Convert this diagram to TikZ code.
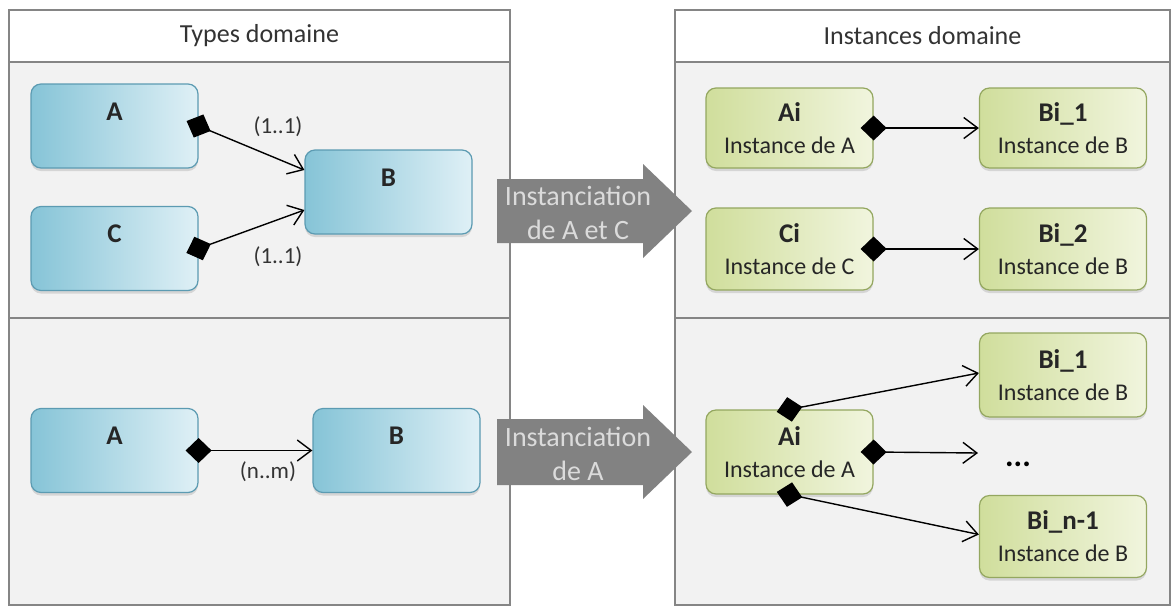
\documentclass[tikz,border=0pt]{standalone}
\usepackage{fontspec}
\setmainfont{Carlito}
\usetikzlibrary{arrows.meta,shadows}
\definecolor{bleuF}{HTML}{86C4D7}
\definecolor{bleuC}{HTML}{DFF0F6}
\definecolor{bleuB}{HTML}{5C9BB2}
\definecolor{vertF}{HTML}{D0DE9C}
\definecolor{vertC}{HTML}{F1F5DE}
\definecolor{vertB}{HTML}{94A760}
\definecolor{fond}{HTML}{F2F2F2}
\definecolor{cadre}{HTML}{858585}
\definecolor{fleche}{HTML}{828282}
\newcommand{\nomfont}{\fontsize{27}{32}\selectfont\bfseries}
\begin{document}
\begin{tikzpicture}[x=1pt,y=-1pt,
  type/.style={draw=bleuB,line width=1.2pt,rounded corners=10pt,
    left color=bleuF,right color=bleuC,minimum width=167pt,minimum height=84pt,
    font=\fontsize{27}{29}\selectfont\bfseries,text=black!85,
    text height=18pt,text depth=30pt,
    drop shadow={opacity=.25,shadow xshift=0pt,shadow yshift=-3pt}},
  inst/.style={draw=vertB,line width=1.2pt,rounded corners=10pt,
    left color=vertF,right color=vertC,minimum width=167pt,minimum height=82pt,
    align=center,text=black!85,font=\fontsize{24}{32}\selectfont,
    drop shadow={opacity=.25,shadow xshift=0pt,shadow yshift=-3pt}},
  lien/.style={line width=1.4pt,
    {Diamond[length=26pt,width=25pt]}-{Straight Barb[length=14pt,width=21pt]},
    shorten <=-13pt},
  card/.style={font=\fontsize{23}{25}\selectfont,text=black!80},
  titre/.style={font=\fontsize{26}{28}\selectfont,text=black!80},
  fltxt/.style={font=\fontsize{28}{34}\selectfont,text=white!86!black,align=center}]
\useasboundingbox (0,0) rectangle (1173,606);
\draw[cadre,line width=1.3pt,fill=fond] (9,10) rectangle (510,605);
\draw[cadre,line width=1.3pt,fill=white] (9,10) rectangle (510,62);
\draw[cadre,line width=1.3pt] (9,318) -- (510,318);
\draw[cadre,line width=1.3pt,fill=fond] (675,10) rectangle (1170,605);
\draw[cadre,line width=1.3pt,fill=white] (675,10) rectangle (1170,62);
\draw[cadre,line width=1.3pt] (675,318) -- (1170,318);
\node[titre] (types) at (259.5,36) {Types domaine};
\node[titre] (instances) at (922.5,36) {Instances domaine};
\fill[fleche] (497,179) -- (643,179) -- (643,164) -- (692,211)
  -- (643,258) -- (643,243) -- (497,243) -- cycle;
\fill[fleche] (497,419) -- (643,419) -- (643,405) -- (692,452)
  -- (643,499) -- (643,485) -- (497,485) -- cycle;
\node[fltxt] (instAC) at (578,213) {Instanciation\\de A et C};
\node[fltxt] (instA) at (578,454) {Instanciation\\de A};
\node[type] (A1) at (114.5,126) {A};
\node[type] (C1) at (114.5,248.5) {C};
\node[type] (B1) at (388.5,192) {B};
\node[type] (A2) at (114.5,450.5) {A};
\node[type] (B2) at (396.5,450.5) {B};
\node[inst,minimum height=80pt] (Ai1) at (789.5,128) {{\nomfont Ai}\\Instance de A};
\node[inst,minimum height=80pt] (Bi1) at (1063,128) {{\nomfont Bi\_1}\\Instance de B};
\node[inst] (Ci1) at (789.5,249) {{\nomfont Ci}\\Instance de C};
\node[inst] (Bi2) at (1063,249) {{\nomfont Bi\_2}\\Instance de B};
\node[inst,minimum height=84pt] (Ai2) at (789.5,452) {{\nomfont Ai}\\Instance de A};
\node[inst,minimum height=84pt] (BiA) at (1063,375) {{\nomfont Bi\_1}\\Instance de B};
\node[inst] (BiN) at (1063,536.5) {{\nomfont Bi\_n-1}\\Instance de B};
\node[font=\fontsize{32}{32}\selectfont\bfseries] (pts) at (1018,464) {...};
\coordinate (fin) at (978,453);
\draw[lien] (A1.east) -- ([yshift=22pt]B1.west);
\draw[lien] (C1.east) -- ([yshift=-18pt]B1.west);
\draw[lien] (A2.east) -- (B2.west);
\node[card] (card1) at (278,127) {(1..1)};
\node[card] (card2) at (278,257) {(1..1)};
\node[card] (card3) at (268,472) {(n..m)};
\draw[lien] (Ai1.east) -- (Bi1.west);
\draw[lien] (Ci1.east) -- (Bi2.west);
\draw[lien] (Ai2.north) -- ([yshift=2pt]BiA.west);
\draw[lien] (Ai2.east) -- (fin);
\draw[lien] (Ai2.south) -- ([yshift=2pt]BiN.west);
\end{tikzpicture}
\end{document}
